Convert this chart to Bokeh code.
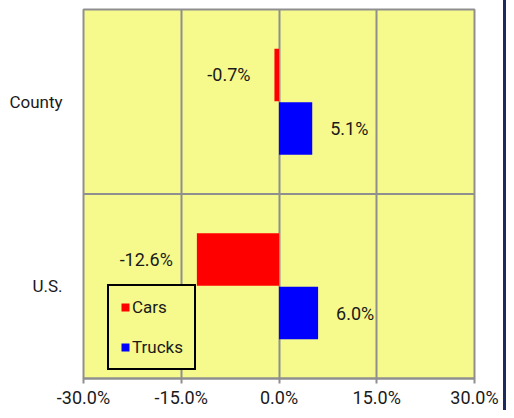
from bokeh.plotting import figure
from bokeh.models import (FactorRange, Range1d, PrintfTickFormatter, Span, Legend,
                          LegendItem, ColumnDataSource, Div)
from bokeh.layouts import row
from bokeh.core.properties import value
from bokeh.transform import dodge
from bokeh.embed import file_html
from bokeh.resources import INLINE

categories = ["U.S.", "County"]
cars = [-12.6, -0.7]
trucks = [6.0, 5.1]
x_ticks = [-30, -15, 0, 15, 30]
series_names = ["Cars", "Trucks"]

FONT = "Roboto"
BG = "#f6f98b"
GRID = "#8f8f8f"
TXT = "#1a1a1a"

src = ColumnDataSource(dict(
    cat=categories,
    cars=cars,
    trucks=trucks,
    cars_lbl=[f"{v:.1f}%" for v in cars],
    trucks_lbl=[f"{v:.1f}%" for v in trucks],
))

p = figure(y_range=FactorRange(*categories, range_padding=0), x_range=Range1d(-30, 30),
           width=503, height=410, output_backend="svg", toolbar_location=None,
           min_border_left=83, min_border_right=29, min_border_top=9, min_border_bottom=26)

p.background_fill_color = BG
p.border_fill_color = "white"
p.outline_line_color = GRID
p.outline_line_width = 2
p.outline_line_alpha = 1

r_cars = p.hbar(y=dodge("cat", 0.145, range=p.y_range), left=0, right="cars", height=0.285,
                source=src, fill_color="#ff0000", line_color=None)
r_trucks = p.hbar(y=dodge("cat", -0.145, range=p.y_range), left=0, right="trucks", height=0.285,
                  source=src, fill_color="#0000ff", line_color=None)

p.text(x="cars", y=dodge("cat", 0.145, range=p.y_range), text="cars_lbl", source=src,
       x_offset=-18, text_align="right", text_baseline="middle",
       text_font=value(FONT), text_font_size="18px", text_color=TXT,
       background_fill_color=BG, padding=6)
p.text(x="trucks", y=dodge("cat", -0.145, range=p.y_range), text="trucks_lbl", source=src,
       x_offset=18, text_align="left", text_baseline="middle",
       text_font=value(FONT), text_font_size="18px", text_color=TXT)

p.add_layout(Span(location=1, dimension="width", line_color=GRID, line_width=2))

p.xgrid.ticker = x_ticks
p.xgrid.grid_line_color = GRID
p.xgrid.grid_line_width = 2
p.ygrid.visible = False

p.xaxis.ticker = x_ticks
p.xaxis.formatter = PrintfTickFormatter(format="%.1f%%")
p.xaxis.axis_line_color = GRID
p.xaxis.axis_line_width = 2
p.xaxis.major_tick_line_color = GRID
p.xaxis.major_tick_line_width = 2
p.xaxis.major_tick_in = 0
p.xaxis.major_tick_out = 5
p.xaxis.minor_tick_line_color = None
p.xaxis.major_label_standoff = 3
p.xaxis.major_label_text_font = FONT
p.xaxis.major_label_text_font_size = "18px"
p.xaxis.major_label_text_color = TXT

p.yaxis.axis_line_color = None
p.yaxis.major_tick_line_color = None
p.yaxis.minor_tick_line_color = None
p.yaxis.major_label_standoff = 15
p.yaxis.major_label_text_font = FONT
p.yaxis.major_label_text_font_size = "17px"
p.yaxis.major_label_text_color = TXT

legend = Legend(items=[LegendItem(label=series_names[0], renderers=[r_cars]),
                       LegendItem(label=series_names[1], renderers=[r_trucks])],
                location=(24, 8))
legend.label_text_font = FONT
legend.label_text_font_size = "17px"
legend.label_text_color = TXT
legend.glyph_width = 10
legend.glyph_height = 10
legend.label_standoff = 2
legend.label_height = 20
legend.spacing = 20
legend.padding = 11
legend.margin = 0
legend.border_line_color = "black"
legend.border_line_width = 2
legend.border_line_alpha = 1
legend.background_fill_color = BG
legend.background_fill_alpha = 1
p.add_layout(legend)

edge = Div(width=3, height=410, margin=0, styles={"background-color": "#1a2b5c"})

layout = row(p, edge, spacing=0)
open("out.html", "w").write(file_html(layout, INLINE))
